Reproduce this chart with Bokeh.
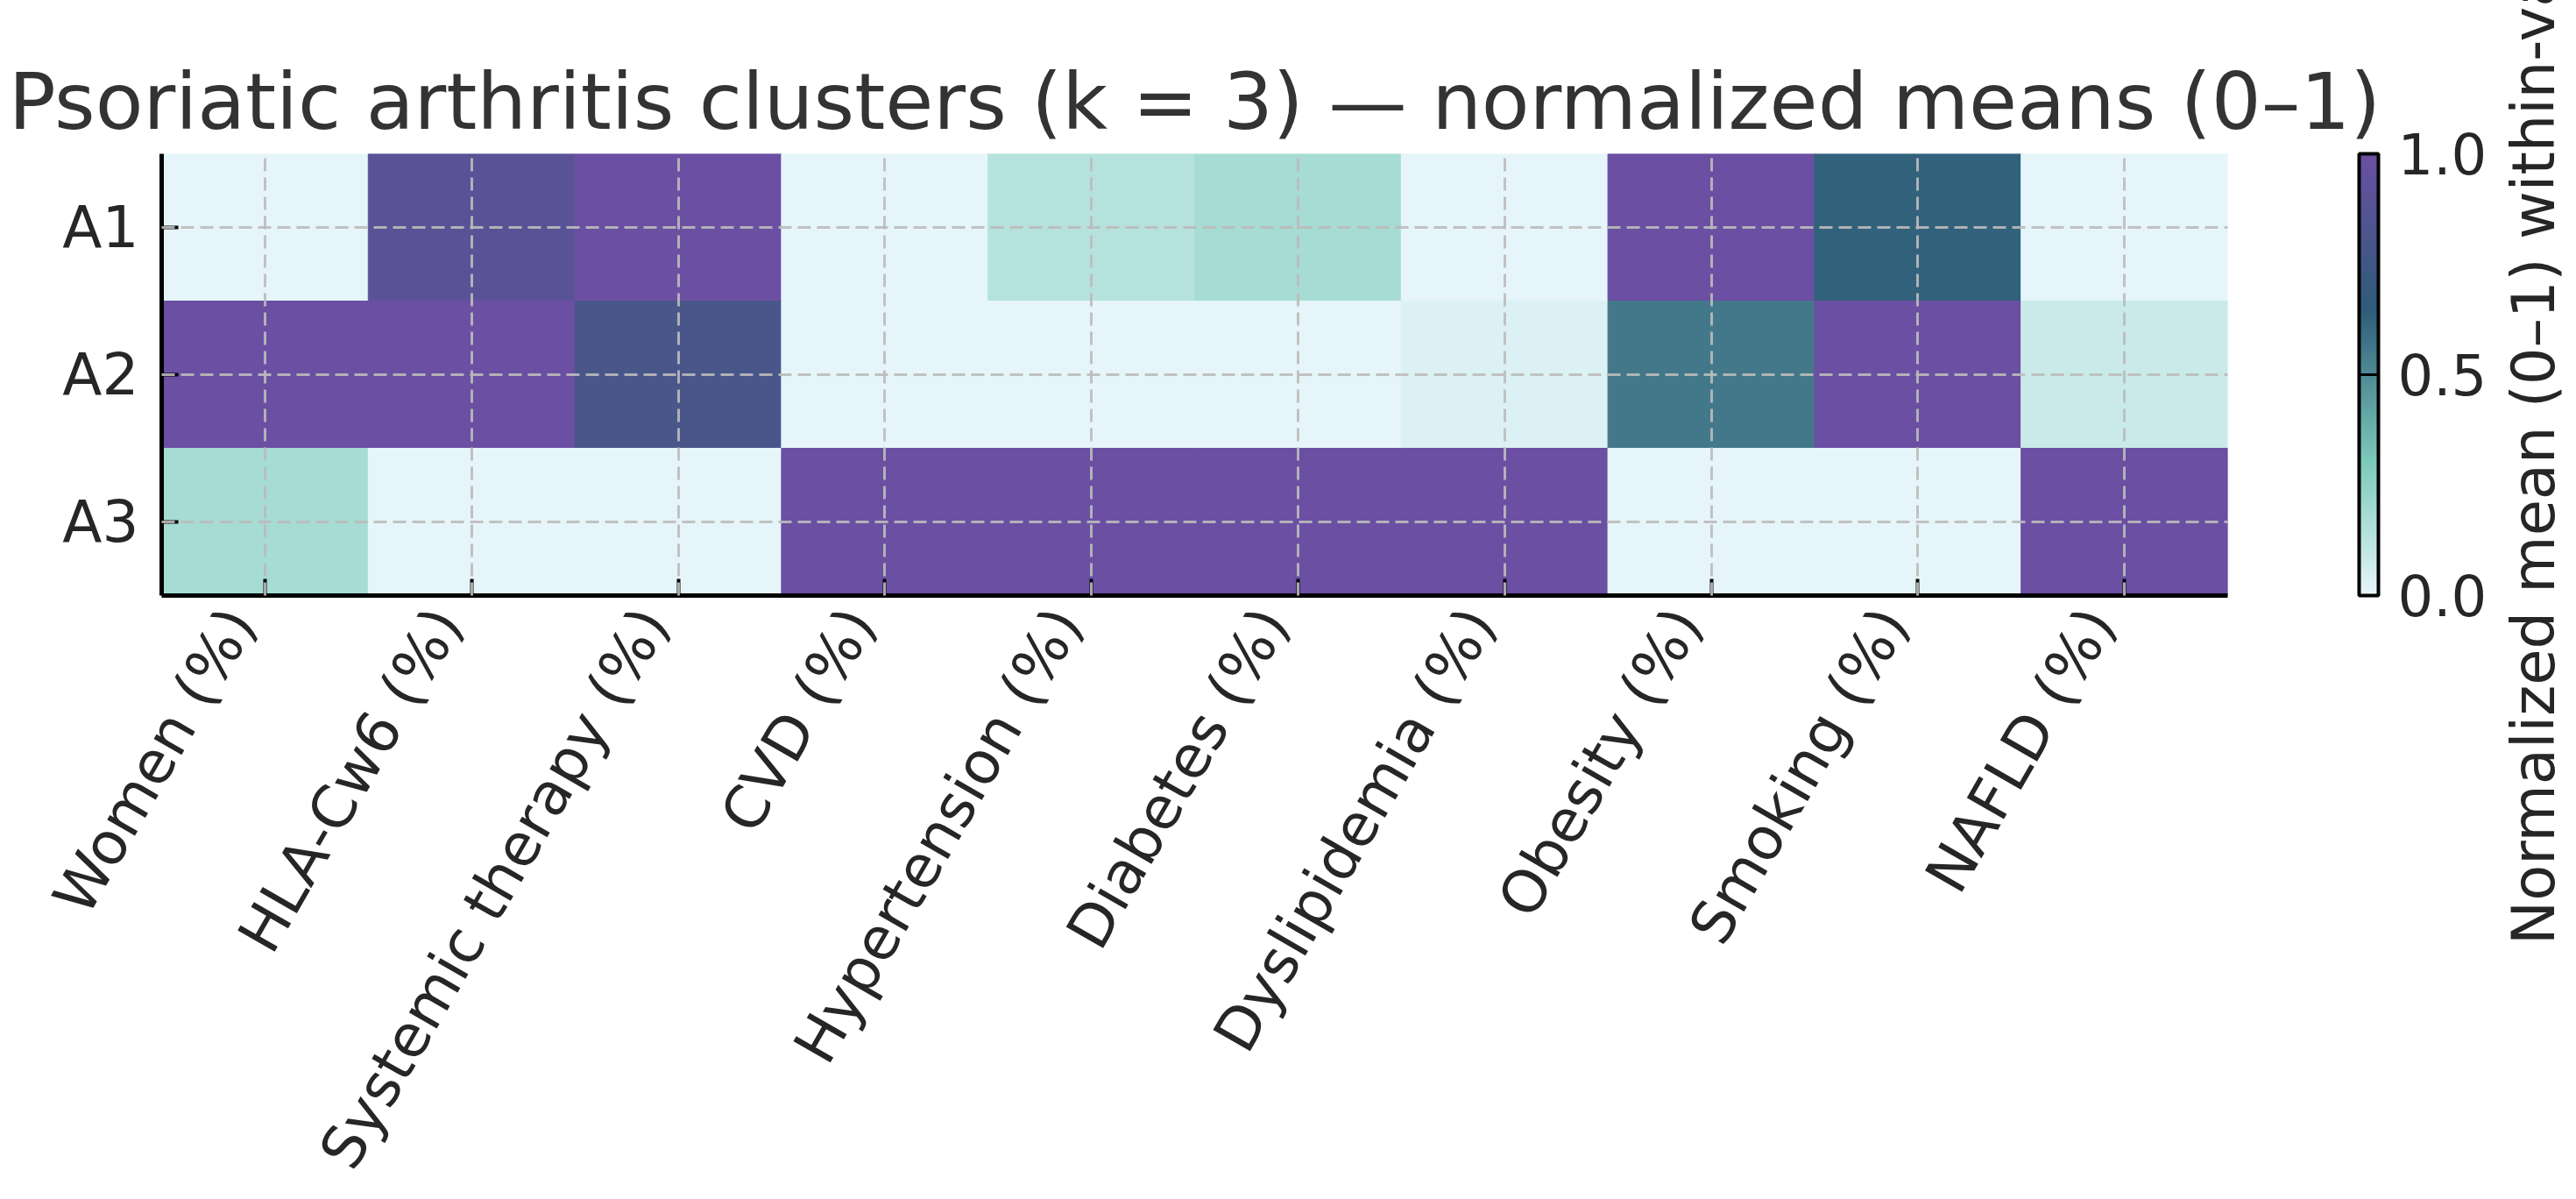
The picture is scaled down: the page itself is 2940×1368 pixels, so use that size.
import math
from bokeh.plotting import figure
from bokeh.layouts import row
from bokeh.models import (ColumnDataSource, LinearColorMapper, ColorBar, FixedTicker,
                          PrintfTickFormatter, FactorRange, LinearAxis, Range1d, Title)
from bokeh.transform import transform
from bokeh.embed import file_html
from bokeh.resources import INLINE

# ---------------- data ----------------
features = ["Women (%)", "HLA-Cw6 (%)", "Systemic therapy (%)", "CVD (%)",
            "Hypertension (%)", "Diabetes (%)", "Dyslipidemia (%)",
            "Obesity (%)", "Smoking (%)", "NAFLD (%)"]
clusters = ["A1", "A2", "A3"]
a1_values = [0.00, 0.90, 1.00, 0.00, 0.14, 0.18, 0.00, 1.00, 0.63, 0.00]
a2_values = [1.00, 1.00, 0.80, 0.00, 0.00, 0.00, 0.03, 0.56, 1.00, 0.08]
a3_values = [0.18, 0.00, 0.00, 1.00, 1.00, 1.00, 1.00, 0.00, 0.00, 1.00]
colorbar_ticks = [0.0, 0.5, 1.0]

title_text = "Psoriatic arthritis clusters (k = 3) \u2014 normalized means (0\u20131)"
colorbar_title = "Normalized mean (0\u20131) within-variable"

# ---------------- colormap ----------------
cmap_stops = [(0.0, "#e6f5fa"), (0.3, "#7ccbbb"), (0.65, "#2e5b78"), (1.0, "#6b4fa3")]


def hex2rgb(h):
    h = h.lstrip("#")
    return tuple(int(h[i:i + 2], 16) for i in (0, 2, 4))


def build_palette(stops, n=256):
    out = []
    for k in range(n):
        t = k / (n - 1)
        for (p0, c0), (p1, c1) in zip(stops[:-1], stops[1:]):
            if p0 <= t <= p1:
                f = (t - p0) / (p1 - p0)
                a, b = hex2rgb(c0), hex2rgb(c1)
                rgb = [round(a[i] + (b[i] - a[i]) * f) for i in range(3)]
                out.append("#%02x%02x%02x" % tuple(rgb))
                break
    return out


palette = build_palette(cmap_stops)
mapper = LinearColorMapper(palette=palette, low=0.0, high=1.0)

# ---------------- long-form table (column index -> position on the x scale) ----------------
rows = {"A1": a1_values, "A2": a2_values, "A3": a3_values}
col_pos = [i + 0.5 for i in range(len(features))]
xs, ys, vals = [], [], []
for c in clusters:
    for xpos, v in zip(col_pos, rows[c]):
        xs.append(xpos)
        ys.append(c)
        vals.append(v)
src = ColumnDataSource(dict(xpos=xs, cluster=ys, val=vals))

FONT = "DejaVu Sans"
TXT = "#262626"
H = 1368
BORDER_TOP, BORDER_BOTTOM = 175, 689

p = figure(width=2842, height=H,
           x_range=Range1d(0, len(features)),
           y_range=FactorRange(factors=list(reversed(clusters))),
           output_backend="svg", toolbar_location=None,
           title=title_text,
           min_border_left=184, min_border_top=BORDER_TOP,
           min_border_right=300, min_border_bottom=BORDER_BOTTOM)

p.rect(x="xpos", y="cluster", width=1, height=1, source=src,
       fill_color=transform("val", mapper), line_color=transform("val", mapper),
       line_width=1)

p.title.text_font = FONT
p.title.text_font_size = "89.5px"
p.title.text_font_style = "normal"
p.title.text_color = "#333333"
p.title.align = "center"
p.title.standoff = 16

p.outline_line_color = None
p.background_fill_color = "white"
p.border_fill_color = "white"

col_ticker = FixedTicker(ticks=col_pos)
p.xaxis[0].ticker = col_ticker
p.xgrid[0].ticker = col_ticker

for ax in (p.xaxis[0], p.yaxis[0]):
    ax.axis_line_color = "black"
    ax.axis_line_width = 5
    ax.major_tick_in = 19
    ax.major_tick_out = 0
    ax.major_tick_line_width = 4
    ax.major_tick_line_color = "black"
    ax.minor_tick_line_color = None
    ax.major_label_text_font = FONT
    ax.major_label_text_font_size = "66px"
    ax.major_label_text_color = TXT

# main x axis keeps line + ticks only; the names are drawn by a second label axis
p.xaxis[0].major_label_text_color = None
p.xaxis[0].major_label_text_font_size = "1px"
p.xaxis[0].major_label_standoff = 0
p.yaxis.major_label_standoff = 26

# label axis: same scale, rotated labels anchored slightly left of each column centre
label_shift = 0.12
label_pos = [round(x - label_shift, 4) for x in col_pos]
lab_axis = LinearAxis(ticker=FixedTicker(ticks=label_pos),
                      major_label_overrides={pos: f for pos, f in zip(label_pos, features)},
                      axis_line_color=None, major_tick_line_color=None,
                      minor_tick_line_color=None, major_tick_in=0, major_tick_out=0,
                      major_label_orientation=math.pi / 3, major_label_standoff=20,
                      major_label_text_font=FONT, major_label_text_font_size="67px",
                      major_label_text_color=TXT)
p.add_layout(lab_axis, "below")

for g in (p.xgrid[0], p.ygrid[0]):
    g.grid_line_color = "#bbbbbb"
    g.grid_line_dash = "15 7"
    g.grid_line_width = 3
    g.grid_line_alpha = 0.9
    g.level = "overlay"

cb = ColorBar(color_mapper=mapper,
              ticker=FixedTicker(ticks=colorbar_ticks),
              formatter=PrintfTickFormatter(format="%.1f"),
              width=22, height=504, location=(150, 0), padding=0, margin=0,
              bar_line_color="black", bar_line_width=4,
              major_tick_in=22, major_tick_out=0,
              major_tick_line_color="black", major_tick_line_width=3,
              minor_tick_line_color=None,
              label_standoff=22,
              major_label_text_font=FONT, major_label_text_font_size="64px",
              major_label_text_color=TXT,
              background_fill_alpha=0, border_line_color=None)
p.add_layout(cb, "right")

# narrow companion plot that only carries the colour-bar title (reads bottom-to-top)
p2 = figure(width=90, height=H, output_backend="svg", toolbar_location=None,
            x_axis_location=None, y_axis_location=None,
            min_border_left=88, min_border_right=0,
            min_border_top=BORDER_TOP, min_border_bottom=BORDER_BOTTOM)
p2.grid.visible = False
p2.outline_line_color = None
p2.background_fill_color = "white"
p2.border_fill_color = "white"
p2.add_layout(Title(text=colorbar_title, align="center", standoff=0,
                    text_font=FONT, text_font_size="67px", text_font_style="normal",
                    text_color=TXT), "left")

layout = row(p, p2)
open("out.html", "w").write(file_html(layout, INLINE))
